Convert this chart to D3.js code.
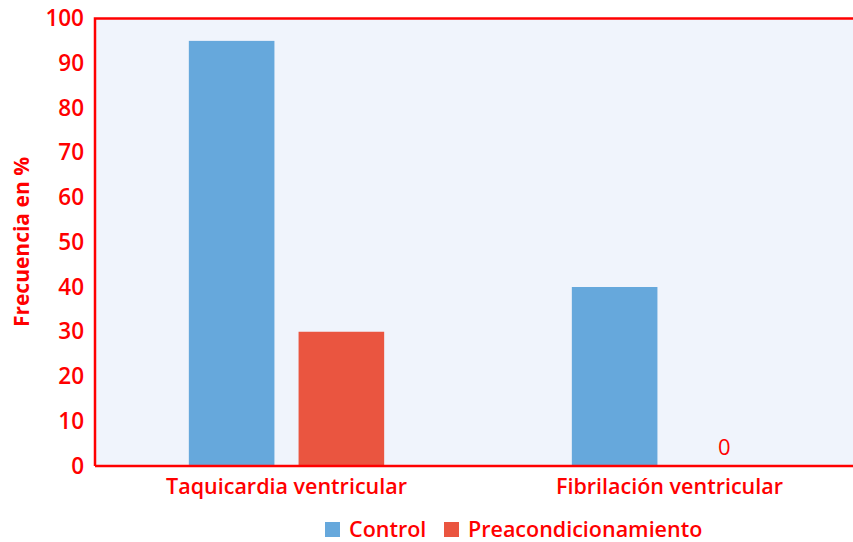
<!DOCTYPE html>
<html>
<head>
<meta charset="utf-8">
<script src="https://cdn.jsdelivr.net/npm/d3@7"></script>
<style>
  body { margin: 0; background: #fff; }
  text { font-family: "Open Sans", sans-serif; fill: #ff0000; font-weight: 600; }
</style>
</head>
<body>
<svg id="chart" width="853" height="542"></svg>
<script>
const categories = ['Taquicardia ventricular', 'Fibrilación ventricular'];
const series = ['Control', 'Preacondicionamiento'];
const controlValues = [95, 40];
const preacondValues = [30, 0];
const yTicks = [0, 10, 20, 30, 40, 50, 60, 70, 80, 90, 100];
const colors = ['#66a8dc', '#ea5540'];

const data = categories.map((c, i) => ({
  name: c,
  values: [controlValues[i], preacondValues[i]]
}));

const svg = d3.select('#chart');
const margin = { top: 18.5, left: 95, bottom: 76, right: -8 };
const width = 853 - margin.left - margin.right;
const height = 542 - margin.top - margin.bottom;

const g = svg.append('g')
  .attr('transform', `translate(${margin.left},${margin.top})`);

// plot background
g.append('rect')
  .attr('width', width)
  .attr('height', height)
  .attr('fill', '#f0f4fc');

const x0 = d3.scaleBand()
  .domain(categories)
  .range([0, width]);

const x1 = d3.scaleBand()
  .domain(series)
  .range([x0.bandwidth() * 0.245, x0.bandwidth() * 0.755])
  .paddingInner(0.22);

const y = d3.scaleLinear()
  .domain([0, 100])
  .range([height, 0]);

const groups = g.selectAll('.group')
  .data(data)
  .enter().append('g')
  .attr('transform', d => `translate(${x0(d.name)},0)`);

groups.selectAll('rect')
  .data(d => d.values.map((v, i) => ({ key: series[i], value: v, i })))
  .enter().append('rect')
  .attr('x', d => x1(d.key))
  .attr('y', d => y(d.value))
  .attr('width', x1.bandwidth())
  .attr('height', d => height - y(d.value))
  .attr('fill', d => colors[d.i]);

// zero label
groups.selectAll('.zero')
  .data(d => d.values.map((v, i) => ({ key: series[i], value: v })).filter(d => d.value === 0))
  .enter().append('text')
  .attr('x', d => x1(d.key) + x1.bandwidth() / 2)
  .attr('y', d => y(d.value) - 11)
  .attr('text-anchor', 'middle')
  .attr('font-size', 22)
  .style('font-weight', 400)
  .text(d => d.value);

// frame: top, left, bottom
g.append('path')
  .attr('d', `M0,${height}V0H${width}M0,${height}H${width}`)
  .attr('fill', 'none')
  .attr('stroke', '#ff0000')
  .attr('stroke-width', 2.5);

// y axis
const yAxis = g.append('g')
  .call(d3.axisLeft(y).tickValues(yTicks).tickSize(0).tickPadding(11));
yAxis.select('.domain').remove();
yAxis.selectAll('text')
  .attr('fill', '#ff0000')
  .attr('font-size', 22.5)
  .attr('font-family', '"Open Sans", sans-serif');

// x axis
const xAxis = g.append('g')
  .attr('transform', `translate(0,${height})`)
  .call(d3.axisBottom(x0).tickSize(0).tickPadding(13));
xAxis.select('.domain').remove();
xAxis.selectAll('text')
  .attr('fill', '#ff0000')
  .attr('font-size', 21.5)
  .attr('font-family', '"Open Sans", sans-serif');

// y title
svg.append('text')
  .attr('transform', 'translate(29,242) rotate(-90)')
  .attr('text-anchor', 'middle')
  .attr('font-size', 21)
  .style('font-weight', 'bold')
  .text('Frecuencia en %');

// legend
const legendX = [325, 444];
const legend = svg.append('g');
series.forEach((s, i) => {
  legend.append('rect')
    .attr('x', legendX[i])
    .attr('y', 522)
    .attr('width', 15)
    .attr('height', 15)
    .attr('fill', colors[i]);
  legend.append('text')
    .attr('x', legendX[i] + 24)
    .attr('y', 537)
    .attr('font-size', 21.5)
    .text(s);
});
</script>
</body>
</html>
